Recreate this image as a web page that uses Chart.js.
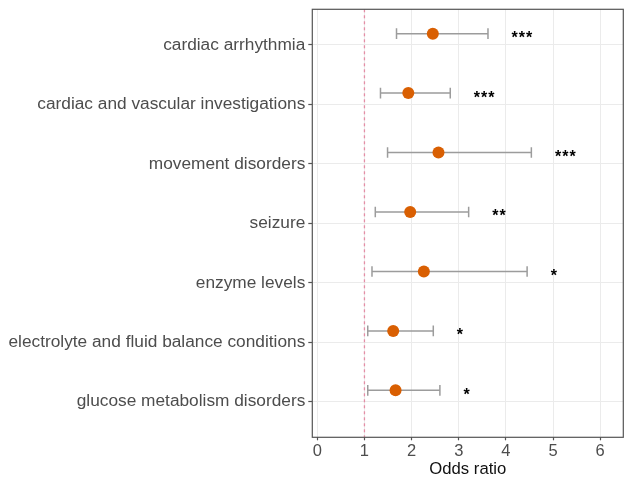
<!DOCTYPE html>
<html>
<head>
<meta charset="utf-8">
<script src="https://cdn.jsdelivr.net/npm/chart.js@4.4.1/dist/chart.umd.min.js"></script>
<style>
html,body{margin:0;padding:0;background:#fff;}
#wrap{width:633px;height:480px;position:relative;}
</style>
</head>
<body>
<div id="wrap"><canvas id="c"></canvas></div>
<script>
const categories = [
  'cardiac arrhythmia',
  'cardiac and vascular investigations',
  'movement disorders',
  'seizure',
  'enzyme levels',
  'electrolyte and fluid balance conditions',
  'glucose metabolism disorders'
];
const oddsRatio = [2.45, 1.93, 2.57, 1.97, 2.26, 1.61, 1.66];
const ciLower   = [1.68, 1.34, 1.49, 1.23, 1.16, 1.07, 1.07];
const ciUpper   = [3.62, 2.82, 4.54, 3.21, 4.45, 2.46, 2.60];
const significance = ['***', '***', '***', '**', '*', '*', '*'];
const xTicks = [0, 1, 2, 3, 4, 5, 6];
const referenceOdds = 1;

const rowShift = 0.19;    // vertical dodge of marks above each category line
const labelGap = 0.5;     // gap (odds units) between CI upper end and stars

const font = 'Liberation Sans, Arial, Helvetica, sans-serif';

const forestPlugin = {
  id: 'forest',
  beforeDatasetsDraw(chart) {
    const {ctx, chartArea, scales: {x, y}} = chart;
    ctx.save();
    // reference line
    const rx = x.getPixelForValue(referenceOdds);
    ctx.strokeStyle = '#e48ea6';
    ctx.lineWidth = 1.3;
    ctx.setLineDash([3, 3]);
    ctx.beginPath();
    ctx.moveTo(rx, chartArea.top);
    ctx.lineTo(rx, chartArea.bottom);
    ctx.stroke();
    ctx.setLineDash([]);
    // error bars
    ctx.strokeStyle = '#9c9c9c';
    ctx.lineWidth = 1.5;
    categories.forEach((c, i) => {
      const py = y.getPixelForValue(i + 1 - rowShift);
      const x1 = x.getPixelForValue(ciLower[i]);
      const x2 = x.getPixelForValue(ciUpper[i]);
      ctx.beginPath();
      ctx.moveTo(x1, py); ctx.lineTo(x2, py);
      ctx.moveTo(x1, py - 5.3); ctx.lineTo(x1, py + 5.3);
      ctx.moveTo(x2, py - 5.3); ctx.lineTo(x2, py + 5.3);
      ctx.stroke();
    });
    // significance stars
    ctx.fillStyle = '#000';
    ctx.font = 'bold 16px ' + font;
    ctx.letterSpacing = '1px';
    ctx.textAlign = 'left';
    ctx.textBaseline = 'middle';
    categories.forEach((c, i) => {
      const py = y.getPixelForValue(i + 1 - rowShift);
      const sx = x.getPixelForValue(ciUpper[i] + labelGap);
      ctx.fillText(significance[i], sx, py + 5);
    });
    ctx.letterSpacing = '0px';
    ctx.restore();
  },
  afterDraw(chart) {
    const {ctx, chartArea} = chart;
    ctx.save();
    ctx.strokeStyle = '#555';
    ctx.lineWidth = 1.2;
    ctx.strokeRect(chartArea.left, chartArea.top, chartArea.right - chartArea.left, chartArea.bottom - chartArea.top);
    ctx.restore();
  }
};

new Chart(document.getElementById('c'), {
  type: 'scatter',
  data: {
    datasets: [{
      data: oddsRatio.map((v, i) => ({x: v, y: i + 1 - rowShift})),
      backgroundColor: '#d95f02',
      borderColor: '#d95f02',
      pointRadius: 6,
      pointHoverRadius: 6,
      borderWidth: 0
    }]
  },
  options: {
    responsive: true,
    maintainAspectRatio: false,
    animation: false,
    events: [],
    layout: {padding: {top: 9.3, right: 9.7, bottom: 0, left: 0}},
    plugins: {legend: {display: false}, tooltip: {enabled: false}},
    scales: {
      x: {
        type: 'linear',
        min: -0.106,
        max: 6.49,
        afterBuildTicks(s) { s.ticks = xTicks.map(v => ({value: v})); },
        afterFit(s) { s.height = 42.7; s.paddingLeft = 0; s.paddingRight = 0; },
        grid: {color: '#ebebeb', lineWidth: 1, drawTicks: true, tickLength: 3, tickColor: '#555', tickWidth: 1.2},
        border: {display: false},
        ticks: {color: '#4d4d4d', font: {family: font, size: 16.5}, padding: 1, maxRotation: 0, autoSkip: false},
        title: {display: true, text: 'Odds ratio', color: '#111', font: {family: font, size: 16.7}, padding: {top: 0, bottom: 1}}
      },
      y: {
        type: 'linear',
        reverse: true,
        min: 0.4,
        max: 7.6,
        afterBuildTicks(s) { s.ticks = categories.map((c, i) => ({value: i + 1})); },
        afterFit(s) { s.width = 312.3; s.paddingTop = 0; s.paddingBottom = 0; },
        grid: {color: '#ebebeb', lineWidth: 1, drawTicks: true, tickLength: 4, tickColor: '#555', tickWidth: 1.2},
        border: {display: false},
        ticks: {
          color: '#4d4d4d', font: {family: font, size: 17.3}, padding: 3, autoSkip: false,
          callback: (v) => categories[Math.round(v) - 1]
        }
      }
    }
  },
  plugins: [forestPlugin]
});
</script>
</body>
</html>
